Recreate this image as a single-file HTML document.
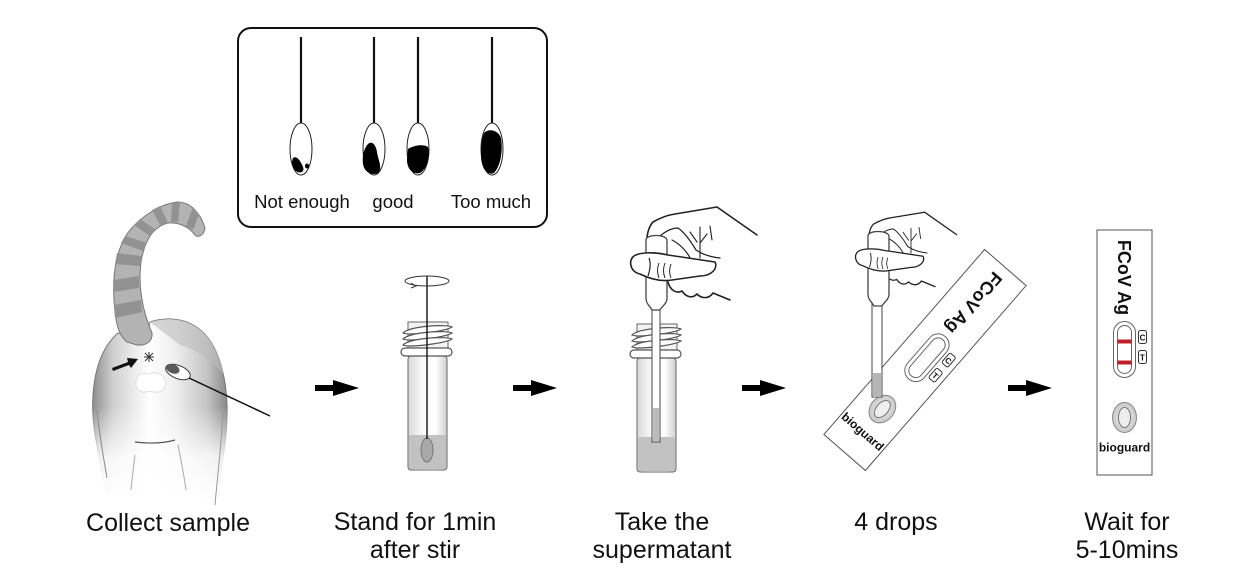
<!DOCTYPE html>
<html>
<head>
<meta charset="utf-8">
<style>
html,body{margin:0;padding:0;background:#fff;}
svg{display:block;}
text{font-family:"Liberation Sans",Arial,sans-serif;}
</style>
</head>
<body>
<svg width="1241" height="587" viewBox="0 0 1241 587" xmlns="http://www.w3.org/2000/svg">
<defs>
  <linearGradient id="bodyG" x1="0" y1="0" x2="1" y2="0">
    <stop offset="0" stop-color="#8e8e8e"/>
    <stop offset="0.15" stop-color="#cfcfcf"/>
    <stop offset="0.42" stop-color="#ffffff"/>
    <stop offset="0.62" stop-color="#eeeeee"/>
    <stop offset="0.85" stop-color="#c4c4c4"/>
    <stop offset="1" stop-color="#8a8a8a"/>
  </linearGradient>
  <linearGradient id="fadeG" x1="0" y1="0" x2="0" y2="1">
    <stop offset="0" stop-color="#fff" stop-opacity="0"/>
    <stop offset="0.45" stop-color="#fff" stop-opacity="0"/>
    <stop offset="0.75" stop-color="#fff" stop-opacity="0.85"/>
    <stop offset="1" stop-color="#fff" stop-opacity="1"/>
  </linearGradient>
  <linearGradient id="tubeG" x1="0" y1="0" x2="1" y2="0">
    <stop offset="0" stop-color="#d8d8d8"/>
    <stop offset="0.35" stop-color="#f8f8f8"/>
    <stop offset="0.7" stop-color="#ffffff"/>
    <stop offset="1" stop-color="#d0d0d0"/>
  </linearGradient>
  <radialGradient id="wellG" cx="0.5" cy="0.5" r="0.5">
    <stop offset="0" stop-color="#f2f2f2"/>
    <stop offset="1" stop-color="#c8c8c8"/>
  </radialGradient>
  <g id="tube">
    <rect x="408" y="322" width="40" height="27" fill="#f3f3f3" stroke="#666" stroke-width="1"/>
    <g fill="none" stroke="#555" stroke-width="1.2">
      <path d="M403,333 C410,326 446,324 452,327 C446,331 410,336 403,333 Z" fill="#fff"/>
      <path d="M403,339 C410,332 446,330 452,333 C446,337 410,342 403,339 Z" fill="#fff"/>
      <path d="M403,345 C410,338 446,336 452,339 C446,343 410,348 403,345 Z" fill="#fff"/>
    </g>
    <rect x="408" y="356" width="39" height="114" rx="3" fill="url(#tubeG)" stroke="#666" stroke-width="1"/>
    <rect x="409" y="435" width="37" height="34" rx="2" fill="#c2c2c2"/>
    <rect x="401" y="348" width="51" height="8" rx="4" fill="#fff" stroke="#555" stroke-width="1.2"/>
  </g>
  <g id="arrow">
    <path d="M0,-3 L18,-3 L18,-8 L44,0 L18,8 L18,3 L0,3 Z" fill="#000"/>
  </g>
  <g id="hand" stroke="#222" stroke-width="1.6" stroke-linejoin="round" stroke-linecap="round">
    <path d="M653,222 L717,207 L757,235 L740,262 L730,300 L700,292 L672,282 L645,252 Z" fill="#fff" stroke="none"/>
    <path d="M647,237 C648,230 650,225 653,222 C660,218 668,215 675,214 L717,207 L757,235" fill="none"/>
    <path d="M668,282 C670,290 676,294 682,291 C686,297 692,299 697,294 C702,299 709,299 713,293 L730,300" fill="none"/>
    <path d="M660,236 C666,231 672,228 678,228 C684,232 690,240 696,250 C702,254 710,257 720,258" fill="none" stroke-width="1.3"/>
    <path d="M672,240 C680,244 688,252 692,262" fill="none" stroke-width="1.2"/>
    <path d="M700,227 L700,258 M700,243 L707,234 M690,232 L697,242 M710,226 L712,240" fill="none" stroke-width="1.1"/>
  </g>
  <g id="thumb" fill="#fff" stroke="#222" stroke-width="1.6" stroke-linejoin="round">
    <path d="M634,256 C640,252 655,252 668,255 L715,262 C718,268 712,276 700,276 L672,280 C660,282 648,278 640,274 C630,272 628,260 634,256 Z"/>
    <path d="M649,258 C651,263 650,270 648,276" fill="none" stroke-width="1.2"/>
    <path d="M659,263 C657,268 657,273 659,278 M665,263 C663,268 663,273 665,278 M671,264 C669,269 669,273 671,278" fill="none" stroke-width="1"/>
  </g>
  <g id="bulb" fill="#fff" stroke="#444" stroke-width="1.3">
    <path d="M646,240 C646,234 666,234 667,240 L667,298 C667,304 662,306 660,310 L652,310 C650,306 646,304 646,298 Z"/>
  </g>
  <g id="strip">
    <rect x="-27.5" y="-122.5" width="55" height="245" fill="#fff" stroke="#555" stroke-width="1"/>
    <text x="0" y="0" transform="translate(-2,-75) rotate(90)" font-size="18" font-weight="bold" fill="#111" text-anchor="middle" dominant-baseline="middle">FCoV Ag</text>
    <rect x="-11" y="-31" width="22" height="56" rx="11" fill="#fff" stroke="#666" stroke-width="1"/>
    <rect x="-7" y="-27" width="14" height="48" rx="7" fill="#fff" stroke="#666" stroke-width="1"/>
    <rect x="14" y="-22" width="8" height="13" rx="2" fill="#fff" stroke="#333" stroke-width="1"/>
    <rect x="14" y="-2" width="8" height="13" rx="2" fill="#fff" stroke="#333" stroke-width="1"/>
    <text x="18" y="-12" font-size="8" font-weight="bold" text-anchor="middle" fill="#111">C</text>
    <text x="18" y="8" font-size="8" font-weight="bold" text-anchor="middle" fill="#111">T</text>
    <ellipse cx="0" cy="65" rx="12" ry="15" fill="url(#wellG)" stroke="#888" stroke-width="1"/>
    <ellipse cx="0" cy="65" rx="6" ry="10" fill="#eee" stroke="#777" stroke-width="1"/>
    <text x="0" y="99" font-size="12" font-weight="bold" text-anchor="middle" fill="#111">bioguard</text>
  </g>
</defs>

<!-- Inset box -->
<rect x="238" y="28" width="309" height="199" rx="13" fill="#fff" stroke="#111" stroke-width="2"/>
<g stroke="#111" stroke-width="2.2">
  <line x1="301" y1="37" x2="301" y2="123"/>
  <line x1="374" y1="37" x2="374" y2="123"/>
  <line x1="418" y1="37" x2="418" y2="123"/>
  <line x1="492" y1="37" x2="492" y2="123"/>
</g>
<g fill="#fff" stroke="#222" stroke-width="1">
  <ellipse cx="301" cy="149" rx="11" ry="26"/>
  <ellipse cx="374" cy="149" rx="11" ry="26"/>
  <ellipse cx="418" cy="149" rx="11" ry="26"/>
  <ellipse cx="492" cy="149" rx="11" ry="26"/>
</g>
<g fill="#000">
  <path d="M293,158 C297,155 301,162 303,167 C305,172 300,174 296,171 C292,168 291,162 293,158 Z"/>
  <ellipse cx="307" cy="166" rx="2" ry="2.5"/>
  <path d="M368,144 C372,140 376,145 377,152 C378,160 383,168 378,173 C372,176 364,172 363,164 C362,156 364,148 368,144 Z"/>
  <path d="M408,149 C414,145 424,144 428,147 C430,155 428,168 420,173 C412,175 407,168 407,160 Z"/>
  <path d="M484,133 C489,128 498,130 501,138 C503,150 501,165 494,173 C487,176 481,168 481,155 C481,145 482,138 484,133 Z"/>
</g>
<g font-size="18.5" fill="#111" text-anchor="middle">
  <text x="302" y="208">Not enough</text>
  <text x="393" y="208">good</text>
  <text x="491" y="208">Too much</text>
</g>

<!-- Cat -->
<g>
  <path d="M118,333 C104,345 95,365 93,395 C91,425 98,450 103,478 L107,495 L218,497 C220,470 228,440 227,405 C226,372 216,338 195,326 C182,318 165,317 150,322 L145,340 Z" fill="url(#bodyG)" stroke="#777" stroke-width="1"/>
  <path d="M150,322 C165,317 182,318 195,326 C210,334 220,352 224,375 C212,360 198,350 180,345 Z" fill="#bdbdbd" opacity="0.6"/>
  <rect x="92" y="330" width="140" height="170" fill="url(#fadeG)"/>
  <path d="M97,410 C100,440 104,460 107,478" fill="none" stroke="#888" stroke-width="1"/>
  <path d="M223,410 C222,440 218,470 215,505" fill="none" stroke="#999" stroke-width="1"/>
  <path d="M135,442 C150,444 165,443 175,440" fill="none" stroke="#555" stroke-width="1.2"/>
  <path d="M135,455 C133,470 132,480 131,490 M178,445 C181,460 184,475 186,490" fill="none" stroke="#aaa" stroke-width="1"/>
  <!-- tail -->
  <path d="M127,342 C118,335 115,320 114,300 C112,270 118,245 130,230 C142,216 160,204 177,202 C190,202 200,212 205,228 C204,236 198,238 195,235 C190,228 180,222 168,223 C155,226 145,238 141,262 C138,285 142,310 152,333 C153,342 145,346 137,345 Z" fill="#b3b3b3" stroke="#777" stroke-width="1"/>
  <g fill="#929292">
    <path d="M114,305 L141,300 L142,312 L115,318 Z"/>
    <path d="M114,280 L139,276 L139,288 L113,292 Z"/>
    <path d="M117,253 L141,256 L140,266 L115,264 Z"/>
    <path d="M125,236 L147,243 L143,251 L121,243 Z"/>
    <path d="M140,219 L156,230 L150,236 L134,225 Z"/>
    <path d="M160,206 L168,223 L160,225 L152,210 Z"/>
    <path d="M180,202 L178,222 L171,222 L172,203 Z"/>
    <path d="M193,207 L186,226 L193,230 L199,214 Z"/>
  </g>
  <!-- white paws -->
  <path d="M136,382 C136,375 142,372 148,374 C153,372 160,372 164,378 C168,384 164,392 158,392 C152,393 148,390 146,392 C140,393 135,388 136,382 Z" fill="#fff" stroke="#e0e0e0" stroke-width="1"/>
  <!-- asterisk -->
  <g stroke="#333" stroke-width="1">
    <line x1="144" y1="357" x2="154" y2="357"/>
    <line x1="149" y1="352" x2="149" y2="362"/>
    <line x1="145" y1="353" x2="153" y2="361"/>
    <line x1="153" y1="353" x2="145" y2="361"/>
  </g>
  <!-- small arrow -->
  <path d="M112,368 L128,362 L127,358 L138,359 L131,368 L129,365 L113,371 Z" fill="#111"/>
  <!-- swab -->
  <g transform="rotate(22 178 372)">
    <ellipse cx="178" cy="372" rx="13" ry="6.5" fill="#fff" stroke="#333" stroke-width="1"/>
    <ellipse cx="172" cy="371" rx="7" ry="4.5" fill="#5a5a5a"/>
  </g>
  <line x1="189" y1="378" x2="270" y2="416" stroke="#111" stroke-width="1.5"/>
</g>

<!-- Arrows -->
<use href="#arrow" transform="translate(315,388)"/>
<use href="#arrow" transform="translate(513,388)"/>
<use href="#arrow" transform="translate(742,388)"/>
<use href="#arrow" transform="translate(1008,388)"/>

<!-- Tube 1 -->
<use href="#tube"/>
<ellipse cx="427" cy="450" rx="6" ry="12" fill="#a8a8a8" stroke="#777" stroke-width="1"/>
<line x1="427" y1="276" x2="427" y2="439" stroke="#111" stroke-width="1.4"/>
<ellipse cx="427" cy="281" rx="22" ry="5" fill="none" stroke="#333" stroke-width="1"/>
<path d="M411,283 L416,286 L411,288" fill="none" stroke="#333" stroke-width="1"/>

<!-- Tube 2 -->
<use href="#tube" transform="translate(229,2)"/>
<rect x="652" y="308" width="8" height="134" fill="#fff" stroke="#444" stroke-width="1"/>
<rect x="653" y="408" width="6" height="33" fill="#bbb"/>
<use href="#hand"/>
<use href="#bulb"/>
<use href="#thumb"/>

<!-- Strip 1 -->
<g transform="translate(925,360) rotate(41)">
  <use href="#strip"/>
</g>
<rect x="872" y="295" width="10" height="102" fill="#fff" stroke="#444" stroke-width="1"/>
<rect x="873" y="373" width="8" height="24" fill="#b5b5b5"/>
<g transform="translate(867,233) scale(0.8) translate(-645,-233)">
  <use href="#hand"/>
</g>
<g transform="translate(222,-4)">
  <use href="#bulb"/>
</g>
<g transform="translate(867,233) scale(0.8) translate(-645,-233)">
  <use href="#thumb"/>
</g>

<!-- Strip 2 -->
<g transform="translate(1124.5,352.5)">
  <use href="#strip"/>
  <rect x="-7" y="-13" width="14" height="4" fill="#c0202a"/>
  <rect x="-7" y="8" width="14" height="4" fill="#c0202a"/>
</g>

<!-- Labels -->
<g font-size="25" fill="#111" text-anchor="middle">
  <text x="168" y="531">Collect sample</text>
  <text x="415" y="530">Stand for 1min</text>
  <text x="415" y="558">after stir</text>
  <text x="662" y="530">Take the</text>
  <text x="662" y="558">supermatant</text>
  <text x="896" y="530">4 drops</text>
  <text x="1127" y="530">Wait for</text>
  <text x="1127" y="558">5-10mins</text>
</g>
</svg>
</body>
</html>
